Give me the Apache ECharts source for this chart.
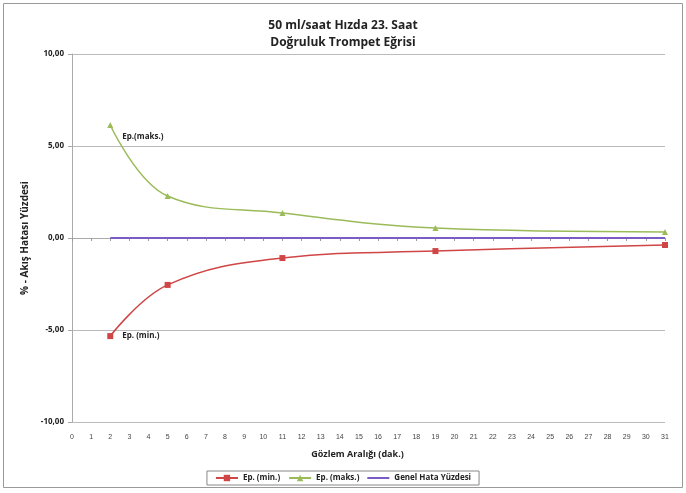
<!DOCTYPE html>
<html><head><meta charset="utf-8">
<script src="https://cdn.jsdelivr.net/npm/echarts@6/dist/echarts.min.js"></script>
<style>html,body{margin:0;padding:0;background:#fff}#c{width:686px;height:493px}</style>
</head><body><div id="c"></div>
<script>
const xValues = [2, 5, 11, 19, 31];
const epMin = [-5.33, -2.55, -1.09, -0.71, -0.38];
const epMaks = [6.14, 2.28, 1.36, 0.54, 0.33];
const genelHata = [0, 0, 0, 0, 0];
const yTicks = [-10, -5, 0, 5, 10];

const font = '"Open Sans", "Noto Sans", sans-serif';
const lbl = (text, off) => ({show: true, position: 'right', offset: off, fontSize: 8, fontWeight: 'bold', color: '#222', formatter: text});
const pair = (ys, firstLabel) => xValues.map((x, i) =>
  (i === 0 && firstLabel) ? {value: [x, ys[i]], label: firstLabel} : [x, ys[i]]);

const chart = echarts.init(document.getElementById('c'));
chart.setOption({
  animation: false,
  textStyle: {fontFamily: font},
  graphic: [{type: 'rect', shape: {x: 3.5, y: 3.5, width: 679, height: 484}, style: {fill: 'none', stroke: '#999', lineWidth: 1}}],
  title: {
    text: '50 ml/saat Hızda 23. Saat\nDoğruluk Trompet Eğrisi',
    left: 'center', top: 12,
    textStyle: {fontSize: 12, fontWeight: 'bold', color: '#222', lineHeight: 17, fontFamily: font}
  },
  legend: {
    bottom: 8, left: 'center',
    borderColor: '#888', borderWidth: 1, padding: [3, 8],
    itemWidth: 22, itemHeight: 8, itemGap: 8,
    textStyle: {fontSize: 8, fontWeight: 'bold', color: '#222'},
    data: [{name: 'Ep. (min.)'}, {name: 'Ep. (maks.)'},
      {name: 'Genel Hata Yüzdesi', icon: 'path://M0,0L0.01,0M0,8L0.01,8M0,3L22,3L22,5L0,5Z', itemStyle: {color: '#7b5cc4'}}]
  },
  grid: {left: 72, right: 21, top: 54, bottom: 71},
  xAxis: [{
    type: 'value', min: 0, max: 31, interval: 1, position: 'bottom',
    name: 'Gözlem Aralığı (dak.)', nameLocation: 'middle', nameGap: 28,
    nameTextStyle: {fontSize: 9, fontWeight: 'bold', color: '#222', padding: [0, 22, 0, 0]},
    axisLine: {show: false, onZero: false}, axisTick: {show: false}, splitLine: {show: false},
    axisLabel: {fontSize: 7, color: '#444', margin: 12, fontFamily: '"Liberation Sans Narrow", "Liberation Sans", sans-serif'}
  }, {
    type: 'value', min: 0, max: 31, interval: 1, position: 'bottom',
    axisLine: {show: true, onZero: true, lineStyle: {color: '#aaa'}},
    axisTick: {show: true, length: 3, lineStyle: {color: '#999'}},
    axisLabel: {show: false}, splitLine: {show: false}
  }],
  yAxis: {
    type: 'value', min: -10, max: 10, interval: 5,
    name: '% - Akış Hatası Yüzdesi', nameLocation: 'middle', nameGap: 33, nameRotate: 90,
    nameTextStyle: {fontSize: 10, fontWeight: 'bold', color: '#222'},
    axisLine: {show: true, lineStyle: {color: '#aaa'}},
    axisTick: {show: true, length: 4, lineStyle: {color: '#aaa'}},
    axisLabel: {fontSize: 8, fontWeight: 'bold', color: '#222', margin: 8,
      formatter: v => yTicks.includes(v) ? v.toFixed(2).replace('.', ',') : ''},
    splitLine: {show: true, lineStyle: {color: '#bbb', width: 1.2}}
  },
  series: [{
    name: 'Ep. (min.)', type: 'line', smooth: 0.4, data: pair(epMin, lbl('Ep. (min.)', [4, 0])),
    symbol: 'rect', symbolSize: 6,
    itemStyle: {color: '#d04545'}, lineStyle: {color: '#d04545', width: 1.5}
  }, {
    name: 'Ep. (maks.)', type: 'line', smooth: 0.4, data: pair(epMaks, lbl('Ep.(maks.)', [4, 12])),
    symbol: 'triangle', symbolSize: 6,
    itemStyle: {color: '#9bbb59'}, lineStyle: {color: '#9bbb59', width: 1.5}
  }, {
    name: 'Genel Hata Yüzdesi', type: 'line', data: pair(genelHata),
    symbol: 'none', showSymbol: false,
    itemStyle: {color: '#7b5cc4'}, lineStyle: {color: '#7b5cc4', width: 2}, z: 3
  }]
});
</script></body></html>
